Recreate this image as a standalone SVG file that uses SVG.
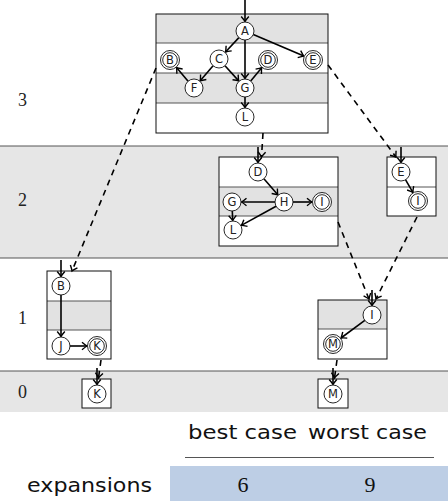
<svg xmlns="http://www.w3.org/2000/svg" width="448" height="501" viewBox="0 0 448 501">
<style>
.band{fill:#e6e6e6}
.bline{stroke:#555;stroke-width:1;fill:none}
.box{fill:none;stroke:#111;stroke-width:1}
.row{fill:#e2e2e2}
.div{stroke:#555;stroke-width:1}
.n{fill:#fff;stroke:#111;stroke-width:0.9}
.in{fill:none;stroke:#111;stroke-width:0.9}
.nt{font-family:"DejaVu Sans",sans-serif;font-size:11.5px;fill:#222;text-anchor:middle}
.e{stroke:#000;stroke-width:1.6;fill:none;marker-end:url(#ah)}
.d{stroke:#000;stroke-width:1.6;fill:none;stroke-dasharray:6,5;marker-end:url(#ah)}
.lv{font-family:"Liberation Serif",serif;font-size:18px;fill:#222}
.hd{font-family:"DejaVu Sans",sans-serif;font-size:20px;fill:#111}
.num{font-family:"Liberation Serif",serif;font-size:22px;fill:#111;text-anchor:middle}
</style>
<defs>
<marker id="ah" markerUnits="userSpaceOnUse" markerWidth="12" markerHeight="12" refX="0" refY="0" viewBox="-6 -6 12 12" orient="auto" overflow="visible">
<path d="M-5,-3.8 Q-1.5,-0.8 0,0 Q-1.5,0.8 -5,3.8" fill="none" stroke="#000" stroke-width="1.4"/>
</marker>
</defs>
<g id="bands">
<rect class="band" x="0" y="146" width="448" height="112"/>
<rect class="band" x="0" y="371" width="448" height="41"/>
<line class="bline" x1="0" y1="146" x2="448" y2="146"/>
<line class="bline" x1="0" y1="258" x2="448" y2="258"/>
<line class="bline" x1="0" y1="371" x2="448" y2="371"/>
<text class="lv" x="18" y="106">3</text>
<text class="lv" x="18" y="206">2</text>
<text class="lv" x="18" y="324">1</text>
<text class="lv" x="18" y="398">0</text>
</g>
<g id="box3">
<rect x="156" y="14" width="172" height="119" fill="#fff"/>
<rect class="row" x="156" y="14" width="172" height="29"/>
<rect class="row" x="156" y="73" width="172" height="30"/>
<line class="div" x1="156" y1="43" x2="328" y2="43"/>
<line class="div" x1="156" y1="73" x2="328" y2="73"/>
<line class="div" x1="156" y1="103" x2="328" y2="103"/>
<rect class="box" x="156" y="14" width="172" height="119"/>
</g>
<g id="box2a">
<rect x="219" y="157" width="119" height="89" fill="#fff"/>
<rect class="row" x="219" y="187" width="119" height="29"/>
<line class="div" x1="219" y1="187" x2="338" y2="187"/>
<line class="div" x1="219" y1="216" x2="338" y2="216"/>
<rect class="box" x="219" y="157" width="119" height="89"/>
</g>
<g id="box2b">
<rect x="387" y="157" width="49" height="59" fill="#fff"/>
<line class="div" x1="387" y1="187" x2="436" y2="187"/>
<rect class="box" x="387" y="157" width="49" height="59"/>
</g>
<g id="box1a">
<rect x="47" y="271" width="64" height="88" fill="#fff"/>
<rect class="row" x="47" y="301" width="64" height="29"/>
<line class="div" x1="47" y1="301" x2="111" y2="301"/>
<line class="div" x1="47" y1="330" x2="111" y2="330"/>
<rect class="box" x="47" y="271" width="64" height="88"/>
</g>
<g id="box1b">
<rect x="318" y="300" width="69" height="59" fill="#fff"/>
<rect class="row" x="318" y="300" width="69" height="29"/>
<line class="div" x1="318" y1="329" x2="387" y2="329"/>
<rect class="box" x="318" y="300" width="69" height="59"/>
</g>
<g id="box0a">
<rect x="82" y="379" width="29" height="29" fill="#fff"/>
<rect class="box" x="82" y="379" width="29" height="29"/>
</g>
<g id="box0b">
<rect x="318" y="379" width="30" height="29" fill="#fff"/>
<rect class="box" x="318" y="379" width="30" height="29"/>
</g>
<g id="connectors">
<line class="e" x1="245" y1="0" x2="245" y2="21.5"/>
<line class="e" x1="238.9" y1="37.6" x2="225.5" y2="52"/>
<line class="e" x1="245" y1="40" x2="245" y2="78.5"/>
<line class="e" x1="253.3" y1="34.5" x2="303.8" y2="56.1"/>
<line class="e" x1="213.1" y1="65.8" x2="200.2" y2="80.8"/>
<line class="e" x1="225" y1="65.7" x2="238.7" y2="80.9"/>
<line class="e" x1="188.1" y1="81.2" x2="176.5" y2="67.6"/>
<line class="e" x1="250.7" y1="81" x2="261.7" y2="67.7"/>
<line class="e" x1="245" y1="97" x2="245" y2="107.5"/>
<line class="d" x1="263" y1="133" x2="261.5" y2="157"/>
<line class="d" x1="156" y1="68" x2="72" y2="271"/>
<line class="d" x1="328" y1="65" x2="396" y2="157"/>
<line class="e" x1="258" y1="147" x2="258" y2="162.5"/>
<line class="e" x1="263.9" y1="178.8" x2="277.8" y2="194.8"/>
<line class="e" x1="275" y1="202" x2="241.5" y2="202"/>
<line class="e" x1="293" y1="202" x2="312" y2="202"/>
<line class="e" x1="276.1" y1="206.3" x2="241.3" y2="225.4"/>
<line class="e" x1="232.3" y1="211" x2="232.7" y2="220.5"/>
<line class="e" x1="401" y1="147" x2="401" y2="162.5"/>
<line class="e" x1="405.6" y1="179.8" x2="412.9" y2="192.4"/>
<line class="d" x1="338" y1="222" x2="369" y2="299"/>
<line class="d" x1="417" y1="217" x2="376" y2="299"/>
<line class="e" x1="61" y1="260" x2="61" y2="276.5"/>
<line class="e" x1="61" y1="295" x2="61" y2="336.5"/>
<line class="e" x1="70" y1="346" x2="87" y2="346"/>
<line class="e" x1="372" y1="290" x2="372" y2="305.5"/>
<line class="e" x1="364.8" y1="320.4" x2="341" y2="338"/>
<line class="d" x1="101" y1="360" x2="98.5" y2="378"/>
<line class="e" x1="97" y1="368" x2="97" y2="384.5"/>
<line class="d" x1="337" y1="360" x2="334.5" y2="378"/>
<line class="e" x1="333" y1="368" x2="333" y2="384.5"/>
</g>
<g id="n3A"><circle class="n" cx="245" cy="31" r="9"/><text class="nt" x="245" y="35">A</text></g>
<g id="n3B"><circle class="n" cx="170" cy="60" r="9.5"/><circle class="in" cx="170" cy="60" r="7.3"/><text class="nt" x="170" y="64">B</text></g>
<g id="n3C"><circle class="n" cx="219" cy="59" r="9"/><text class="nt" x="219" y="63">C</text></g>
<g id="n3D"><circle class="n" cx="268" cy="60" r="9.5"/><circle class="in" cx="268" cy="60" r="7.3"/><text class="nt" x="268" y="64">D</text></g>
<g id="n3E"><circle class="n" cx="313" cy="60" r="9.5"/><circle class="in" cx="313" cy="60" r="7.3"/><text class="nt" x="313" y="64">E</text></g>
<g id="n3F"><circle class="n" cx="194" cy="88" r="9"/><text class="nt" x="194" y="92">F</text></g>
<g id="n3G"><circle class="n" cx="245" cy="88" r="9"/><text class="nt" x="245" y="92">G</text></g>
<g id="n3L"><circle class="n" cx="245" cy="117" r="9"/><text class="nt" x="245" y="121">L</text></g>
<g id="n2D"><circle class="n" cx="258" cy="172" r="9"/><text class="nt" x="258" y="176">D</text></g>
<g id="n2H"><circle class="n" cx="284" cy="202" r="9"/><text class="nt" x="284" y="206">H</text></g>
<g id="n2G"><circle class="n" cx="232" cy="202" r="9"/><text class="nt" x="232" y="206">G</text></g>
<g id="n2I"><circle class="n" cx="322" cy="202" r="9.5"/><circle class="in" cx="322" cy="202" r="7.3"/><text class="nt" x="322" y="206">I</text></g>
<g id="n2L"><circle class="n" cx="233" cy="230" r="9"/><text class="nt" x="233" y="234">L</text></g>
<g id="n2bE"><circle class="n" cx="401" cy="172" r="9"/><text class="nt" x="401" y="176">E</text></g>
<g id="n2bI"><circle class="n" cx="418" cy="201" r="9.5"/><circle class="in" cx="418" cy="201" r="7.3"/><text class="nt" x="418" y="205">I</text></g>
<g id="n1B"><circle class="n" cx="61" cy="286" r="9"/><text class="nt" x="61" y="290">B</text></g>
<g id="n1J"><circle class="n" cx="61" cy="346" r="9"/><text class="nt" x="61" y="350">J</text></g>
<g id="n1K"><circle class="n" cx="97" cy="346" r="9.5"/><circle class="in" cx="97" cy="346" r="7.3"/><text class="nt" x="97" y="350">K</text></g>
<g id="n1bI"><circle class="n" cx="372" cy="315" r="9"/><text class="nt" x="372" y="319">I</text></g>
<g id="n1bM"><circle class="n" cx="333" cy="344" r="9.5"/><circle class="in" cx="333" cy="344" r="7.3"/><text class="nt" x="333" y="348">M</text></g>
<g id="n0K"><circle class="n" cx="97" cy="394" r="9"/><text class="nt" x="97" y="398">K</text></g>
<g id="n0M"><circle class="n" cx="333" cy="394" r="9"/><text class="nt" x="333" y="398">M</text></g>
<g id="table">
<text class="hd" x="188" y="439" textLength="109" lengthAdjust="spacingAndGlyphs">best case</text>
<text class="hd" x="308" y="439" textLength="119" lengthAdjust="spacingAndGlyphs">worst case</text>
<line x1="185" y1="457.5" x2="434" y2="457.5" stroke="#555" stroke-width="1"/>
<rect x="170" y="466" width="278" height="35" fill="#bdcee5"/>
<text class="hd" x="27" y="492" textLength="125" lengthAdjust="spacingAndGlyphs">expansions</text>
<text class="num" x="243" y="492">6</text>
<text class="num" x="370" y="492">9</text>
</g>
</svg>
